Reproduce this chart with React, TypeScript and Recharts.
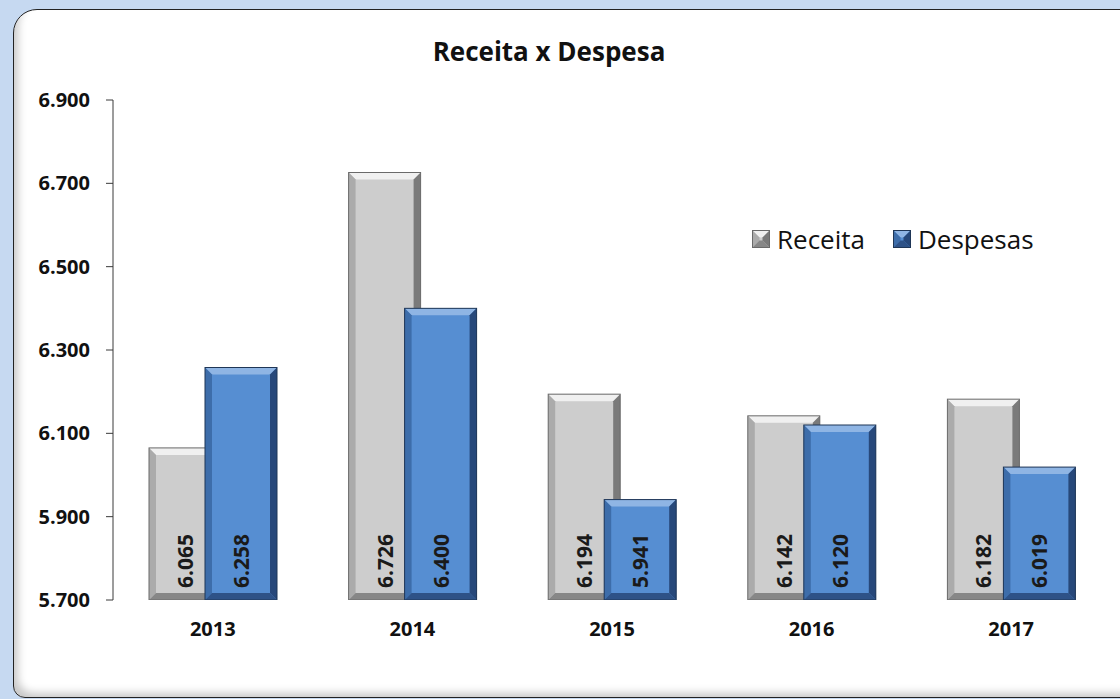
import { BarChart, Bar, XAxis, YAxis, Legend, LabelList } from "recharts"

const years = ["2013", "2014", "2015", "2016", "2017"]
const receita = [6065, 6726, 6194, 6142, 6182]
const despesas = [6258, 6400, 5941, 6120, 6019]
const yTicks = [5700, 5900, 6100, 6300, 6500, 6700, 6900]
const edgeTicks = [0, 1, 2, 3, 4, 5]
const seriesOrder = ["receita", "despesas"]

const data = years.map((year, i) => ({ year, receita: receita[i], despesas: despesas[i] }))

const FONT = "'Open Sans', 'Noto Sans', sans-serif"

type Tone = { face: string; light: string; side: string; dark: string; stroke: string }

const tones: Record<string, Tone> = {
  receita: { face: "#cdcdcd", light: "#f0f0f0", side: "#ababab", dark: "#7a7a7a", stroke: "#6a6a6a" },
  despesas: { face: "#568ed2", light: "#8fb5e4", side: "#3d6daa", dark: "#27487a", stroke: "#1f3656" },
}

// dots as thousand separator, like pt-BR
const fmt = (v: number) => {
  const s = String(Math.round(v))
  return s.slice(0, -3) + "." + s.slice(-3)
}

function BevelRect({ x, y, width: w, height: h, tone }: { x: number; y: number; width: number; height: number; tone: Tone }) {
  if (!w || !h || h <= 0) return null
  const b = Math.min(7, h / 2, w / 2)
  return (
    <g>
      <rect x={x} y={y} width={w} height={h} fill={tone.face} />
      <polygon points={`${x},${y} ${x + w},${y} ${x + w - b},${y + b} ${x + b},${y + b}`} fill={tone.light} />
      <polygon points={`${x},${y} ${x + b},${y + b} ${x + b},${y + h - b} ${x},${y + h}`} fill={tone.side} />
      <polygon points={`${x + w},${y} ${x + w},${y + h} ${x + w - b},${y + h - b} ${x + w - b},${y + b}`} fill={tone.dark} />
      <polygon points={`${x},${y + h} ${x + w},${y + h} ${x + w - b},${y + h - b} ${x + b},${y + h - b}`} fill={tone.dark} opacity={0.85} />
      <rect x={x} y={y} width={w} height={h} fill="none" stroke={tone.stroke} strokeWidth={1} />
    </g>
  )
}

const shapeFor = (key: string) => (props: any) => (
  <BevelRect x={props.x} y={props.y} width={props.width} height={props.height} tone={tones[key]} />
)

function VerticalLabel(props: any) {
  const { x, y, width, height, value } = props
  const cx = x + width / 2
  const by = y + height - 12
  return (
    <text
      x={cx}
      y={by}
      transform={`rotate(-90 ${cx} ${by})`}
      textAnchor="start"
      dominantBaseline="central"
      fontFamily={FONT}
      fontWeight="bold"
      fontSize={21}
      fill="#1a1a1a"
    >
      {fmt(value)}
    </text>
  )
}

function EdgeTick({ x, y, payload }: any) {
  const top = payload.value === 0 ? y : y - 8
  return <line x1={x} x2={x} y1={top} y2={y + 7} stroke="#3a3a3a" strokeWidth={1} />
}

function LegendBox({ payload }: any) {
  const items = [...(payload || [])].sort(
    (a: any, b: any) => seriesOrder.indexOf(a.dataKey) - seriesOrder.indexOf(b.dataKey)
  )
  return (
    <div style={{ display: "flex", alignItems: "center", fontFamily: FONT, fontSize: 26, color: "#111" }}>
      {items.map((p: any) => (
        <div key={p.value} style={{ display: "flex", alignItems: "center", marginRight: 28 }}>
          <svg width={18} height={18} style={{ marginRight: 7 }}>
            <BevelRect x={0.5} y={0.5} width={17} height={17} tone={tones[p.dataKey]} />
          </svg>
          <span>{p.value}</span>
        </div>
      ))}
    </div>
  )
}

export default function App() {
  return (
    <div style={{ position: "fixed", left: 0, top: 0, width: 1120, height: 699, background: "#c6d9f1", overflow: "hidden" }}>
      <div
        style={{
          position: "absolute",
          left: 13,
          top: 9,
          width: 1140,
          height: 687,
          background: "#fff",
          border: "1px solid #222",
          borderTopLeftRadius: 24,
          borderBottomLeftRadius: 12,
          boxShadow: "inset 8px -8px 8px -4px rgba(0,0,0,0.22)",
        }}
      />
      <div
        style={{
          position: "absolute",
          left: 0,
          top: 33,
          width: 1098,
          textAlign: "center",
          fontFamily: FONT,
          fontWeight: "bold",
          fontSize: 26,
          color: "#111",
        }}
      >
        Receita x Despesa
      </div>
      <div style={{ position: "absolute", left: 0, top: 0 }}>
        <BarChart
          width={1120}
          height={699}
          data={data}
          margin={{ top: 100, right: 9, bottom: 39, left: 13 }}
          barSize={72}
          barGap={-16}
        >
          <XAxis
            xAxisId="edge"
            type="number"
            domain={[0, 5]}
            ticks={edgeTicks}
            height={0}
            tickSize={0}
            tickMargin={0}
            tickLine={false}
            tick={<EdgeTick />}
            axisLine={{ stroke: "#3a3a3a" }}
            allowDataOverflow
          />
          <XAxis
            xAxisId="cat"
            dataKey="year"
            height={60}
            axisLine={false}
            tickLine={false}
            tickSize={0}
            tickMargin={22}
            tick={{ fill: "#111", fontSize: 20, fontWeight: "bold", fontFamily: FONT }}
          />
          <YAxis
            domain={[5700, 6900]}
            ticks={yTicks}
            width={100}
            tickSize={7}
            tickMargin={16}
            tickFormatter={fmt}
            axisLine={{ stroke: "#3a3a3a" }}
            tickLine={{ stroke: "#3a3a3a" }}
            tick={{ fill: "#111", fontSize: 20, fontWeight: "bold", fontFamily: FONT }}
            allowDataOverflow
          />
          <Legend
            layout="vertical"
            align="center"
            verticalAlign="middle"
            content={<LegendBox />}
            wrapperStyle={{ left: 752, top: 221, width: "auto" }}
          />
          <Bar xAxisId="cat" dataKey="receita" name="Receita" fill="#cdcdcd" shape={shapeFor("receita")} isAnimationActive={false}>
            <LabelList dataKey="receita" content={<VerticalLabel />} />
          </Bar>
          <Bar xAxisId="cat" dataKey="despesas" name="Despesas" fill="#568ed2" shape={shapeFor("despesas")} isAnimationActive={false}>
            <LabelList dataKey="despesas" content={<VerticalLabel />} />
          </Bar>
        </BarChart>
      </div>
    </div>
  )
}
